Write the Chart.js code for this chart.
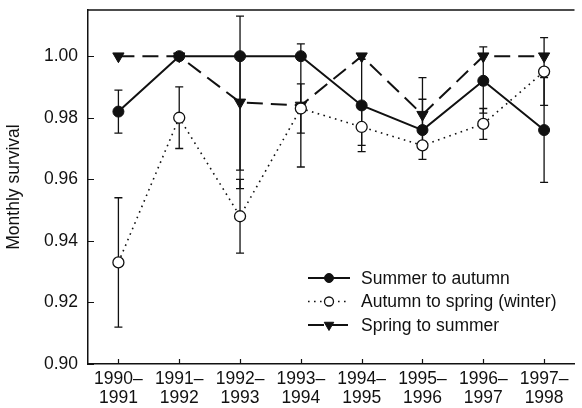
<!DOCTYPE html>
<html>
<head>
<meta charset="utf-8">
<script src="https://cdn.jsdelivr.net/npm/chart.js@4/dist/chart.umd.min.js"></script>
<style>
  html, body { margin: 0; padding: 0; background: #fff; }
  #wrap { width: 582px; height: 408px; }
</style>
</head>
<body>
<div id="wrap"><canvas id="c"></canvas></div>
<script>
// periods on the x axis
const periods = [
  ["1990\u2013", "1991"], ["1991\u2013", "1992"], ["1992\u2013", "1993"], ["1993\u2013", "1994"],
  ["1994\u2013", "1995"], ["1995\u2013", "1996"], ["1996\u2013", "1997"], ["1997\u2013", "1998"]
];

// summer to autumn
const summer     = [0.982, 1.000, 1.000, 1.000, 0.984, 0.976, 0.992, 0.976];
const summerLow  = [0.975, null,  0.963, null,  0.969, 0.9665, 0.9815, 0.959];
const summerHigh = [0.989, null,  1.000, null,  0.999, 0.986, 1.003, 0.993];

// autumn to spring (winter)
const winter     = [0.933, 0.980, 0.948, 0.983, 0.977, 0.971, 0.978, 0.995];
const winterLow  = [0.912, 0.970, 0.936, 0.975, 0.971, 0.970, 0.973, 0.984];
const winterHigh = [0.954, 0.990, 0.960, 0.991, 0.983, 0.972, 0.983, 1.006];

// spring to summer
const spring     = [1.000, 1.000, 0.985, 0.984, 1.000, 0.981, 1.000, 1.000];
const springLow  = [null,  null,  0.957, 0.964, null,  0.970, null,  null];
const springHigh = [null,  null,  1.013, 1.004, null,  0.993, null,  null];

const yTicks = [0.90, 0.92, 0.94, 0.96, 0.98, 1.00];

const FONT = "'Liberation Sans', Arial, Helvetica, sans-serif";
const INK = "#111";

// error bars, drawn under the markers
const errorBars = {
  id: "errorBars",
  beforeDatasetsDraw(chart) {
    const ctx = chart.ctx;
    const x = chart.scales.x, y = chart.scales.y;
    ctx.save();
    ctx.strokeStyle = INK;
    ctx.lineWidth = 1.3;
    chart.data.datasets.forEach(ds => {
      ds.low.forEach((lo, i) => {
        const hi = ds.high[i];
        if (lo == null || hi == null) return;
        const px = x.getPixelForValue(i);
        const y1 = y.getPixelForValue(lo), y2 = y.getPixelForValue(hi);
        ctx.beginPath();
        ctx.moveTo(px, y1); ctx.lineTo(px, y2);
        ctx.moveTo(px - 4, y1); ctx.lineTo(px + 4, y1);
        ctx.moveTo(px - 4, y2); ctx.lineTo(px + 4, y2);
        ctx.stroke();
      });
    });
    ctx.restore();
  }
};

// top border, inward ticks and the legend inside the plot
const frame = {
  id: "frame",
  afterDraw(chart) {
    const ctx = chart.ctx;
    const a = chart.chartArea;
    const x = chart.scales.x, y = chart.scales.y;
    ctx.save();
    ctx.strokeStyle = INK;
    ctx.lineWidth = 1.5;
    ctx.beginPath();
    ctx.moveTo(a.left, a.top); ctx.lineTo(a.right, a.top);
    ctx.stroke();
    ctx.lineWidth = 1.2;
    ctx.beginPath();
    yTicks.forEach(v => {
      const py = Math.round(y.getPixelForValue(v)) + 0.5;
      ctx.moveTo(a.left, py); ctx.lineTo(a.left + 6, py);
    });
    periods.forEach((p, i) => {
      const px = Math.round(x.getPixelForValue(i)) + 0.5;
      ctx.moveTo(px, a.bottom); ctx.lineTo(px, a.bottom - 5);
    });
    ctx.stroke();

    // legend
    const lx = a.left + 220, ty = a.bottom - 86;
    chart.data.datasets.forEach((ds, k) => {
      const ly = ty + k * 23.5;
      ctx.strokeStyle = INK;
      ctx.lineWidth = ds.borderWidth;
      ctx.setLineDash(ds.borderDash || []);
      ctx.beginPath();
      ctx.moveTo(lx, ly); ctx.lineTo(lx + 42, ly);
      ctx.stroke();
      ctx.setLineDash([]);
      ctx.fillStyle = ds.pointBackgroundColor;
      ctx.strokeStyle = INK;
      ctx.lineWidth = ds.pointBorderWidth;
      Chart.helpers.drawPoint(ctx, {
        pointStyle: ds.pointStyle, radius: ds.pointRadius - 1,
        rotation: ds.pointRotation || 0, borderWidth: ds.pointBorderWidth
      }, lx + 21, ly);
      ctx.fillStyle = INK;
      ctx.font = "17.5px " + FONT;
      ctx.textBaseline = "middle";
      ctx.fillText(ds.label, lx + 53, ly + 1);
    });
    ctx.restore();
  }
};

new Chart(document.getElementById("c"), {
  type: "line",
  data: {
    labels: periods,
    datasets: [
      {
        label: "Summer to autumn", data: summer, low: summerLow, high: summerHigh,
        borderColor: INK, borderWidth: 2, borderDash: [],
        pointStyle: "circle", pointRadius: 5.5, pointBackgroundColor: INK,
        pointBorderColor: INK, pointBorderWidth: 1
      },
      {
        label: "Autumn to spring (winter)", data: winter, low: winterLow, high: winterHigh,
        borderColor: INK, borderWidth: 1.6, borderDash: [1.6, 4.4],
        pointStyle: "circle", pointRadius: 5.5, pointBackgroundColor: "#fff",
        pointBorderColor: INK, pointBorderWidth: 1.3
      },
      {
        label: "Spring to summer", data: spring, low: springLow, high: springHigh,
        borderColor: INK, borderWidth: 2, borderDash: [16, 8],
        pointStyle: "triangle", pointRotation: 180, pointRadius: 6.5, pointBackgroundColor: INK,
        pointBorderColor: INK, pointBorderWidth: 1
      }
    ]
  },
  options: {
    responsive: true,
    maintainAspectRatio: false,
    animation: false,
    layout: { padding: { top: 10, right: 0, left: 0, bottom: 0 } },
    plugins: { legend: { display: false }, tooltip: { enabled: false } },
    scales: {
      x: {
        type: "category",
        offset: true,
        grid: { display: false, drawTicks: false },
        border: { display: true, color: INK, width: 1.5 },
        ticks: { color: INK, font: { family: FONT, size: 17.5, lineHeight: 1.12 }, padding: 5, maxRotation: 0, autoSkip: false },
        afterFit(s) { s.height = 44; s.paddingRight = 0; }
      },
      y: {
        min: 0.90,
        max: 1.015,
        grid: { display: false, drawTicks: false },
        border: { display: true, color: INK, width: 1.5 },
        afterBuildTicks(s) { s.ticks = yTicks.map(v => ({ value: v })); },
        ticks: {
          color: INK, font: { family: FONT, size: 17.5 }, padding: 10,
          callback: v => v.toFixed(2)
        },
        title: { display: true, text: "Monthly survival", color: INK, font: { family: FONT, size: 17.5 }, padding: { top: 4, bottom: 4 } },
        afterFit(s) { s.width = 88; s.paddingTop = 0; s.paddingBottom = 0; }
      }
    }
  },
  plugins: [errorBars, frame]
});
</script>
</body>
</html>
